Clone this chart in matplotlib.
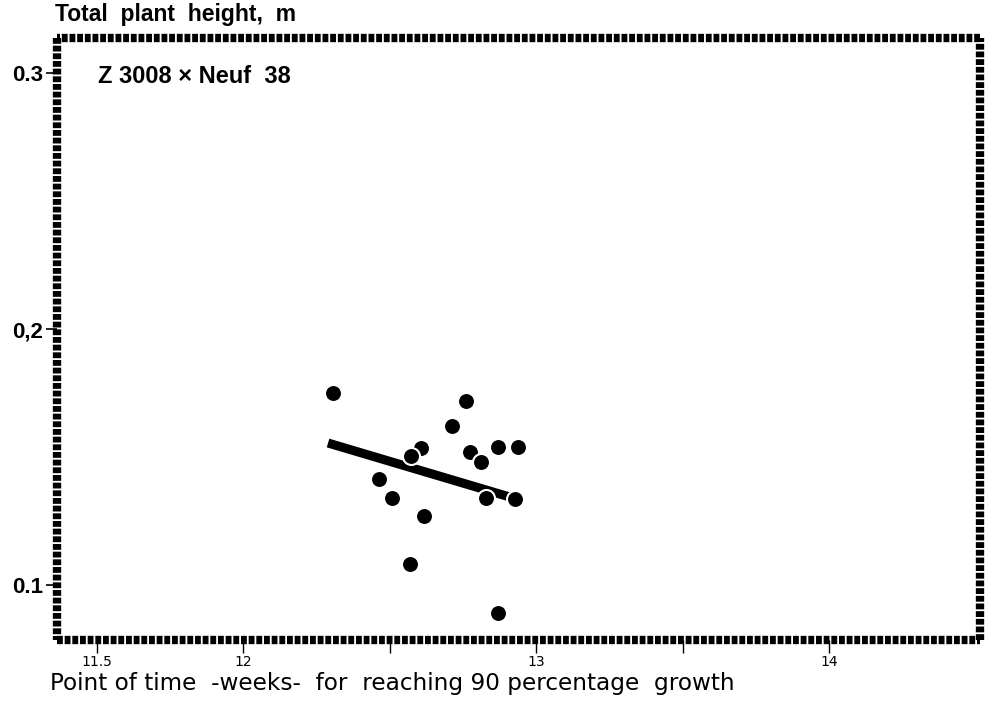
import matplotlib.pyplot as plt
import numpy as np

weeks = [12.307, 12.761, 12.713, 12.608, 12.573, 12.775, 12.812, 12.870,
         12.939, 12.464, 12.509, 12.618, 12.829, 12.928, 12.570, 12.870]
height = [0.175, 0.1719, 0.1621, 0.1535, 0.1504, 0.1520, 0.1480, 0.1539,
          0.1539, 0.1414, 0.1340, 0.1270, 0.1340, 0.1336, 0.1082, 0.0891]
fit_x = [12.29, 12.922]
fit_y = [0.1555, 0.1340]

xticks = [11.5, 12, 12.5, 13, 13.5, 14]
xticklabels = ["11.5", "12", "", "13", "", "14"]
yticks = [0.1, 0.2, 0.3]
yticklabels = ["0.1", "0,2", "0.3"]

narrow = ['Liberation Sans Narrow', 'DejaVu Sans Condensed', 'DejaVu Sans']
plt.rcParams['font.family'] = ['Liberation Sans', 'DejaVu Sans']

fig = plt.figure(figsize=(9.89, 7.09), dpi=100)
ax = fig.add_axes([0.0576, 0.0973, 0.9334, 0.8487])

ax.plot(fit_x, fit_y, color='black', linewidth=6.5, solid_capstyle='butt', zorder=2)
ax.scatter(weeks, height, s=150, color='black', edgecolors='white',
           linewidths=1.5, zorder=3)

ax.set_xlim(11.365, 14.515)
ax.set_ylim(0.0785, 0.3137)

ax.set_xticks(xticks)
ax.set_xticklabels(xticklabels, family=narrow, fontsize=10)
ax.set_yticks(yticks)
ax.set_yticklabels(yticklabels, fontsize=16, fontweight='bold')
ax.tick_params(axis='x', direction='out', length=9, width=1, pad=2)
ax.tick_params(axis='y', direction='out', length=8, width=1.2, pad=2)

# hatched looking frame of the old plotter, drawn as dashed lines
for s in ax.spines.values():
    s.set_visible(False)
frame_x = [0, 1, 1, 0, 0]
frame_y = [0, 0, 1, 1, 0]
for i in range(4):
    ax.plot(frame_x[i:i + 2], frame_y[i:i + 2], transform=ax.transAxes,
            color='black', linewidth=6, dashes=(0.7, 0.22),
            dash_capstyle='butt', clip_on=False, zorder=4)

ax.text(0.044, 0.955, "Z 3008 \u00d7 Neuf  38", transform=ax.transAxes,
        fontsize=17, fontweight='bold', va='top', ha='left')

fig.text(0.056, 0.979, "Total  plant  height,  m", fontsize=16.5,
         fontweight='bold', va='center', ha='left')
fig.text(0.051, 0.036, "Point of time  -weeks-  for  reaching 90 percentage  growth",
         family=narrow, fontsize=16.7, va='center', ha='left')

fig.savefig("out.png", dpi=100)
